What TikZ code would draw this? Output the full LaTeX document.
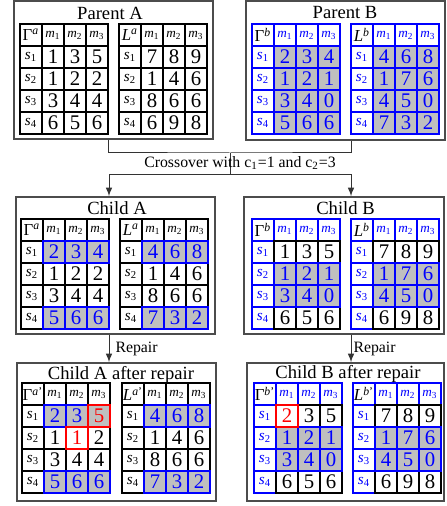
\documentclass[tikz,border=0pt]{standalone}
\usepackage{fontspec}
\setmainfont{Liberation Serif}
\usetikzlibrary{fit}
\newcommand{\valfont}{\fontsize{10.4}{12}\selectfont}
\newcommand{\hdrfont}{\fontsize{6.6}{8}\selectfont}
\newcommand{\rowfont}{\fontsize{7.6}{9}\selectfont}
\newcommand{\cornfont}{\fontsize{8.4}{10}\selectfont}
\tikzset{
  cell/.style={draw, minimum size=11pt, inner sep=0pt, outer sep=0pt, anchor=north west, line width=0.55pt, font=\valfont},
  plain/.style={cell},
  hit/.style={cell, draw=blue, fill=black!25, text=blue},
  fix/.style={cell, draw=red, text=red},
  box/.style={draw=black!70, line width=0.75pt, inner sep=0pt},
  title/.style={font=\fontsize{9.3}{11}\selectfont, inner sep=0pt},
  link/.style={draw=black!80, line width=0.5pt},
  arrow/.style={link, -latex},
}
% table: name, x, y, corner text, tone, rows (row/style/v1/v2/v3)
\newcommand{\mtable}[6]{%
  \begin{scope}[shift={(#2,#3)}]
    \node[cell, draw=#5, font=\cornfont] (#1-0-0) at (0,0) {#4};
    \foreach \cl in {1,2,3}
      \node[cell, draw=#5, text=#5, font=\hdrfont] (#1-0-\cl) at (22*\cl,0) {\textit{m}\textsubscript{\cl}};
    \foreach \rw in {1,...,4}
      \node[cell, draw=#5, text=#5, font=\rowfont] (#1-\rw-0) at (0,22*\rw) {\textit{s}\textsubscript{\rw}};
    \foreach \rw/\st/\va/\vb/\vc in {#6} {
      \node[\st] (#1-\rw-1) at (22,22*\rw) {\va};
      \node[\st] (#1-\rw-2) at (44,22*\rw) {\vb};
      \node[\st] (#1-\rw-3) at (66,22*\rw) {\vc};
    }
  \end{scope}}

\begin{document}
\begin{tikzpicture}[x=0.5pt, y=-0.5pt]
  %%%%% START %%%%%
  \useasboundingbox (0,0) rectangle (446,506);

  % parents
  \mtable{pa-g}{20}{24}{Γ\textsuperscript{\textit{a}}}{black}{1/plain/1/3/5, 2/plain/1/2/2, 3/plain/3/4/4, 4/plain/6/5/6}
  \mtable{pa-l}{119}{24}{\textit{L}\textsuperscript{\textit{a}}}{black}{1/plain/7/8/9, 2/plain/1/4/6, 3/plain/8/6/6, 4/plain/6/9/8}
  \node[box, fit={(14,1) (213,139)}] (pa) {};
  \node[title] (pa-t) at (110,13) {Parent A};

  \mtable{pb-g}{252}{24}{Γ\textsuperscript{\textit{b}}}{blue}{1/hit/2/3/4, 2/hit/1/2/1, 3/hit/3/4/0, 4/hit/5/6/6}
  \mtable{pb-l}{351}{24}{\textit{L}\textsuperscript{\textit{b}}}{blue}{1/hit/4/6/8, 2/hit/1/7/6, 3/hit/4/5/0, 4/hit/7/3/2}
  \node[box, fit={(246,1) (445,140)}] (pb) {};
  \node[title] (pb-t) at (345,13) {Parent B};

  % children
  \mtable{ca-g}{21}{219}{Γ\textsuperscript{\textit{a}}}{black}{2/plain/1/2/2, 3/plain/3/4/4, 1/hit/2/3/4, 4/hit/5/6/6}
  \mtable{ca-l}{120}{219}{\textit{L}\textsuperscript{\textit{a}}}{black}{2/plain/1/4/6, 3/plain/8/6/6, 1/hit/4/6/8, 4/hit/7/3/2}
  \node[box, fit={(16,197) (215,334)}] (ca) {};
  \node[title] (ca-t) at (117,208) {Child A};

  \mtable{cb-g}{252}{219}{Γ\textsuperscript{\textit{b}}}{blue}{1/plain/1/3/5, 4/plain/6/5/6, 2/hit/1/2/1, 3/hit/3/4/0}
  \mtable{cb-l}{351}{219}{\textit{L}\textsuperscript{\textit{b}}}{blue}{1/plain/7/8/9, 4/plain/6/9/8, 2/hit/1/7/6, 3/hit/4/5/0}
  \node[box, fit={(244,197) (444,334)}] (cb) {};
  \node[title] (cb-t) at (345.5,208) {Child B};

  % after repair (repaired cells left empty, filled in red below)
  \mtable{ra-g}{22}{383}{Γ\textsuperscript{\textit{a}'}}{black}{2/plain/1/{}/2, 3/plain/3/4/4, 1/hit/2/3/{}, 4/hit/5/6/6}
  \mtable{ra-l}{122}{383}{\textit{L}\textsuperscript{\textit{a}'}}{black}{2/plain/1/4/6, 3/plain/8/6/6, 1/hit/4/6/8, 4/hit/7/3/2}
  \node[fix, fill=black!25] (ra-g-fix1) at (ra-g-1-3.north west) {5};
  \node[fix] (ra-g-fix2) at (ra-g-2-2.north west) {1};
  \node[box, fit={(17,363) (216,501)}] (ra) {};
  \node[title] (ra-t) at (121,375) {Child A after repair};

  \mtable{rb-g}{254}{383}{Γ\textsuperscript{\textit{b}'}}{blue}{1/plain/{}/3/5, 4/plain/6/5/6, 2/hit/1/2/1, 3/hit/3/4/0}
  \mtable{rb-l}{353}{383}{\textit{L}\textsuperscript{\textit{b}'}}{blue}{1/plain/7/8/9, 4/plain/6/9/8, 2/hit/1/7/6, 3/hit/4/5/0}
  \node[fix] (rb-g-fix1) at (rb-g-1-1.north west) {2};
  \node[box, fit={(247,363) (444,501)}] (rb) {};
  \node[title] (rb-t) at (348,374) {Child B after repair};

  % crossover
  \coordinate (join) at (230,153);
  \coordinate (split) at (230,175);
  \draw[link] (pa.south -| pa-g-0-3.east) |- (join) -| (pb.south -| pb-l-0-0.west);
  \draw[link] (join) -- (split);
  \node[font=\fontsize{7.9}{9}\selectfont, inner sep=0pt] (cross) at (240,163) {Crossover with c\textsubscript{1}=1 and c\textsubscript{2}=3};
  \draw[arrow] (split) -| (ca.north -| ca-g-0-3.east);
  \draw[arrow] (split) -| (cb.north -| cb-l-0-0.west);

  % repair
  \draw[arrow] (ca.south -| ca-g-0-3.east) -- (ra.north -| ca-g-0-3.east)
    node[midway, right, font=\fontsize{7.9}{9}\selectfont, inner sep=3pt] (rep-a) {Repair};
  \draw[arrow] (cb.south -| cb-l-0-0.west) -- (rb.north -| cb-l-0-0.west)
    node[midway, right, font=\fontsize{7.9}{9}\selectfont, inner sep=1pt] (rep-b) {Repair};
  %%%%% END %%%%%
\end{tikzpicture}
\end{document}
